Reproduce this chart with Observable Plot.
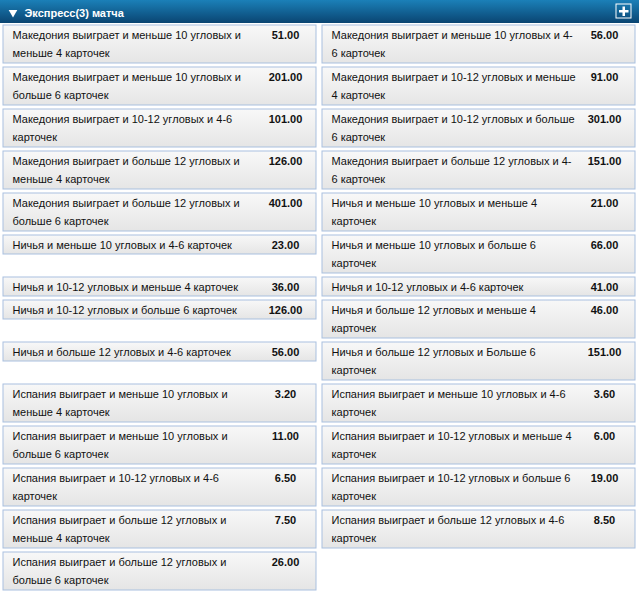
<!DOCTYPE html>
<html>
<head>
<meta charset="utf-8">
<script src="https://cdn.jsdelivr.net/npm/d3@7"></script>
<script src="https://cdn.jsdelivr.net/npm/@observablehq/plot@0.6"></script>
<style>
  html, body { margin: 0; padding: 0; background: #fff; }
  svg { display: block; }
</style>
</head>
<body>
<script>
const title = "Экспресс(3) матча";

const leftLabels = [
  "Македония выиграет и меньше 10 угловых и\nменьше 4 карточек",
  "Македония выиграет и меньше 10 угловых и\nбольше 6 карточек",
  "Македония выиграет и 10-12 угловых и 4-6\nкарточек",
  "Македония выиграет и больше 12 угловых и\nменьше 4 карточек",
  "Македония выиграет и больше 12 угловых и\nбольше 6 карточек",
  "Ничья и меньше 10 угловых и 4-6 карточек",
  "Ничья и 10-12 угловых и меньше 4 карточек",
  "Ничья и 10-12 угловых и больше 6 карточек",
  "Ничья и больше 12 угловых и 4-6 карточек",
  "Испания выиграет и меньше 10 угловых и\nменьше 4 карточек",
  "Испания выиграет и меньше 10 угловых и\nбольше 6 карточек",
  "Испания выиграет и 10-12 угловых и 4-6\nкарточек",
  "Испания выиграет и больше 12 угловых и\nменьше 4 карточек",
  "Испания выиграет и больше 12 угловых и\nбольше 6 карточек"
];
const leftOdds = ["51.00","201.00","101.00","126.00","401.00","23.00","36.00","126.00","56.00","3.20","11.00","6.50","7.50","26.00"];

const rightLabels = [
  "Македония выиграет и меньше 10 угловых и 4-\n6 карточек",
  "Македония выиграет и 10-12 угловых и меньше\n4 карточек",
  "Македония выиграет и 10-12 угловых и больше\n6 карточек",
  "Македония выиграет и больше 12 угловых и 4-\n6 карточек",
  "Ничья и меньше 10 угловых и меньше 4\nкарточек",
  "Ничья и меньше 10 угловых и больше 6\nкарточек",
  "Ничья и 10-12 угловых и 4-6 карточек",
  "Ничья и больше 12 угловых и меньше 4\nкарточек",
  "Ничья и больше 12 угловых и Больше 6\nкарточек",
  "Испания выиграет и меньше 10 угловых и 4-6\nкарточек",
  "Испания выиграет и 10-12 угловых и меньше 4\nкарточек",
  "Испания выиграет и 10-12 угловых и больше 6\nкарточек",
  "Испания выиграет и больше 12 угловых и 4-6\nкарточек"
];
const rightOdds = ["56.00","91.00","301.00","151.00","21.00","66.00","41.00","46.00","151.00","3.60","6.00","19.00","8.50"];

// ---- layout (computed) ----
const W = 639, H = 594;
const colX = [3, 322], cellW = 313;
const lineH = 18, baseOff = 13.5;
const cells = [];
let rowTop = 25;
for (let i = 0; i < leftLabels.length; i++) {
  const sides = [[leftLabels[i], leftOdds[i]], [rightLabels[i], rightOdds[i]]];
  let maxLines = 1;
  sides.forEach(([label, odds], col) => {
    if (label === undefined) return;
    const lines = label.split("\n");
    maxLines = Math.max(maxLines, lines.length);
    cells.push({col, top: rowTop, lines, odds, h: lines.length === 2 ? 38 : 19});
  });
  rowTop += maxLines === 2 ? 42 : 23;
}
const textLines = cells.flatMap(c => c.lines.map((t, j) => ({t, x: colX[c.col] + 9, y: c.top + baseOff + j * lineH})));

const plot = Plot.plot({
  width: W, height: H,
  marginTop: 0, marginRight: 0, marginBottom: 0, marginLeft: 0,
  x: {domain: [0, W], range: [0, W], axis: null},
  y: {domain: [0, H], range: [0, H], axis: null},
  style: {fontFamily: "Arial, 'Liberation Sans', sans-serif", background: "#fff", overflow: "visible"},
  marks: [
    Plot.rect([title], {x1: 0, x2: W, y1: 0, y2: 23, fill: "url(#hdrGrad)"}),
    Plot.dot([title], {x: 12.5, y: 12, symbol: "triangle", r: 3.2, rotate: 180, fill: "#fff", stroke: "none"}),
    Plot.text([title], {x: 24, y: 16.5, text: d => d, textAnchor: "start", lineAnchor: "bottom", fill: "#fff", fontWeight: "bold", fontSize: 11}),
    Plot.rect([title], {x1: 616, x2: 631, y1: 4, y2: 18, fill: "none", stroke: "#fff", strokeWidth: 1}),
    Plot.rect([title], {x1: 619, x2: 628.5, y1: 10, y2: 12.5, fill: "#fff"}),
    Plot.rect([title], {x1: 622.5, x2: 625, y1: 6.5, y2: 16, fill: "#fff"}),
    Plot.rect(cells, {x1: d => colX[d.col], x2: d => colX[d.col] + cellW, y1: d => d.top, y2: d => d.top + d.h,
      fill: "url(#cellGrad)", stroke: "#a9c0df", strokeWidth: 1}),
    Plot.text(textLines, {x: "x", y: "y", text: "t", textAnchor: "start", lineAnchor: "bottom", fontSize: 11, fill: "#111"}),
    Plot.text(cells, {x: d => colX[d.col] + 282, y: d => d.top + baseOff, text: "odds", textAnchor: "middle", lineAnchor: "bottom",
      fontSize: 11, fontWeight: "bold", fill: "#111"})
  ]
});

const defs = d3.select(plot).insert("defs", ":first-child");
const hg = defs.append("linearGradient").attr("id", "hdrGrad").attr("x1", 0).attr("y1", 0).attr("x2", 0).attr("y2", 1);
hg.append("stop").attr("offset", "0%").attr("stop-color", "#1b80b8");
hg.append("stop").attr("offset", "100%").attr("stop-color", "#0a4572");
const cg = defs.append("linearGradient").attr("id", "cellGrad").attr("x1", 0).attr("y1", 0).attr("x2", 0).attr("y2", 1);
cg.append("stop").attr("offset", "0%").attr("stop-color", "#f8f8f8");
cg.append("stop").attr("offset", "100%").attr("stop-color", "#e5e5e5");

document.body.appendChild(plot);
</script>
</body>
</html>
